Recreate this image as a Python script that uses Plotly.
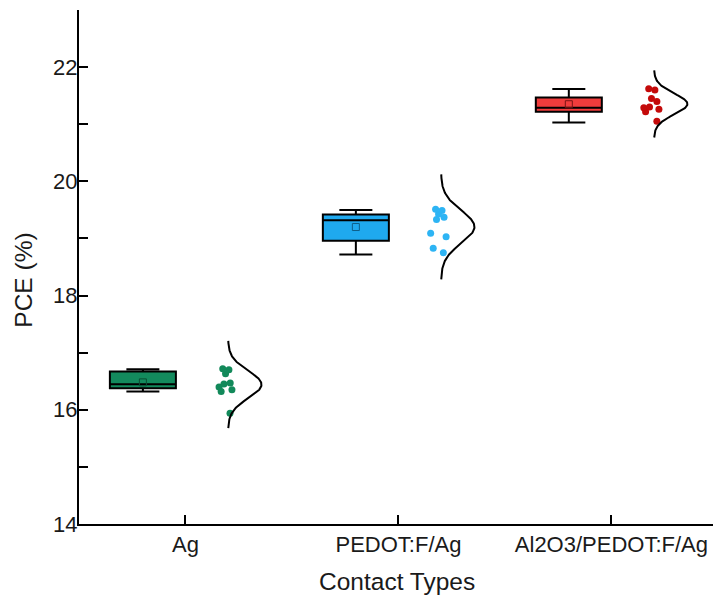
import numpy as np
import plotly.graph_objects as go

# ---- data ----
categories = ["Ag", "PEDOT:F/Ag", "Al2O3/PEDOT:F/Ag"]

pce_ag = [16.72, 16.70, 16.63, 16.47, 16.45, 16.40, 16.35, 16.32, 15.94]
pce_pedot = [19.51, 19.49, 19.43, 19.37, 19.33, 19.09, 19.03, 18.83, 18.75]
pce_al2o3 = [21.62, 21.60, 21.45, 21.40, 21.30, 21.29, 21.26, 21.22, 21.05]

# box statistics per contact type
box_q1 = [16.375, 18.96, 21.22]
box_median = [16.445, 19.32, 21.29]
box_q3 = [16.67, 19.42, 21.47]
box_lower = [16.32, 18.72, 21.03]
box_upper = [16.71, 19.50, 21.615]
box_mean = [16.48, 19.20, 21.35]

x_title = "Contact Types"
y_title = "PCE (%)"

# ---- styling ----
fill_colors = ["#138a5d", "#1fa9ef", "#f03c3c"]
point_colors = ["#12895a", "#2db4f4", "#c40a0a"]
mean_colors = ["#0b4f35", "#0e5f8a", "#7a1414"]

BOX_OFFSET = -0.20
BOX_WIDTH = 0.31
POINT_OFFSET = 0.19
CURVE_BASE = 0.20
CURVE_AMP = 0.157
CURVE_SPAN = 3.2

samples = [pce_ag, pce_pedot, pce_al2o3]

fig = go.Figure()

for i, cat in enumerate(categories):
    pos = i + 1

    # box with pre-computed statistics
    fig.add_trace(go.Box(
        x=[pos + BOX_OFFSET],
        q1=[box_q1[i]], median=[box_median[i]], q3=[box_q3[i]],
        lowerfence=[box_lower[i]], upperfence=[box_upper[i]],
        width=BOX_WIDTH, whiskerwidth=0.5,
        fillcolor=fill_colors[i],
        line=dict(color="black", width=2),
        boxpoints=False, showlegend=False, name=cat,
    ))

    # mean marker
    fig.add_trace(go.Scatter(
        x=[pos + BOX_OFFSET], y=[box_mean[i]], mode="markers",
        marker=dict(symbol="square-open", size=7,
                    color=mean_colors[i], line=dict(width=1)),
        showlegend=False, hoverinfo="skip",
    ))

    # jittered raw points (box itself hidden)
    vals = samples[i]
    fig.add_trace(go.Box(
        x=[pos + POINT_OFFSET] * len(vals), y=vals,
        width=0.1, boxpoints="all", jitter=1.0, pointpos=0,
        fillcolor="rgba(0,0,0,0)", line=dict(width=0, color="rgba(0,0,0,0)"),
        marker=dict(color=point_colors[i], size=7),
        showlegend=False, name=cat,
    ))

    # normal distribution curve
    arr = np.array(vals)
    mu, sd = arr.mean(), arr.std(ddof=1)
    yy = np.linspace(mu - CURVE_SPAN * sd, mu + CURVE_SPAN * sd, 200)
    pdf = np.exp(-0.5 * ((yy - mu) / sd) ** 2)
    fig.add_trace(go.Scatter(
        x=pos + CURVE_BASE + CURVE_AMP * pdf, y=yy, mode="lines",
        line=dict(color="black", width=2),
        showlegend=False, hoverinfo="skip",
    ))

font_family = "Liberation Sans, Arial, sans-serif"
text_color = "#1a1a1a"

fig.update_layout(
    width=713, height=601,
    margin=dict(l=79, r=0, t=10, b=77),
    plot_bgcolor="white", paper_bgcolor="white",
    font=dict(family=font_family, color=text_color, size=22),
    boxmode="overlay",
    xaxis=dict(
        range=[0.5, 3.477],
        tickmode="array", tickvals=[1, 2, 3], ticktext=categories,
        ticks="inside", ticklen=9, tickwidth=1.5, tickcolor="black",
        showline=True, linecolor="black", linewidth=2,
        showgrid=False, zeroline=False,
        tickfont=dict(size=22),
        automargin=False,
    ),
    yaxis=dict(
        range=[14, 23],
        tickmode="array", tickvals=[14, 16, 18, 20, 22],
        ticks="inside", ticklen=9, tickwidth=1.5, tickcolor="black",
        minor=dict(tickvals=[15, 17, 19, 21], ticks="inside", ticklen=9,
                   tickwidth=1.5, tickcolor="black"),
        showline=True, linecolor="black", linewidth=2,
        showgrid=False, zeroline=False,
        tickfont=dict(size=22),
        ticklabelstandoff=-5,
        automargin=False,
    ),
    annotations=[
        dict(text=x_title, xref="paper", yref="paper",
             x=0.502, y=-0.111, xanchor="center", yanchor="middle",
             showarrow=False, font=dict(size=24.5)),
        dict(text=y_title, xref="paper", yref="paper", textangle=-90,
             x=-0.087, y=0.475, xanchor="center", yanchor="middle",
             showarrow=False, font=dict(size=24.5)),
    ],
)

fig.write_html("out.html")
